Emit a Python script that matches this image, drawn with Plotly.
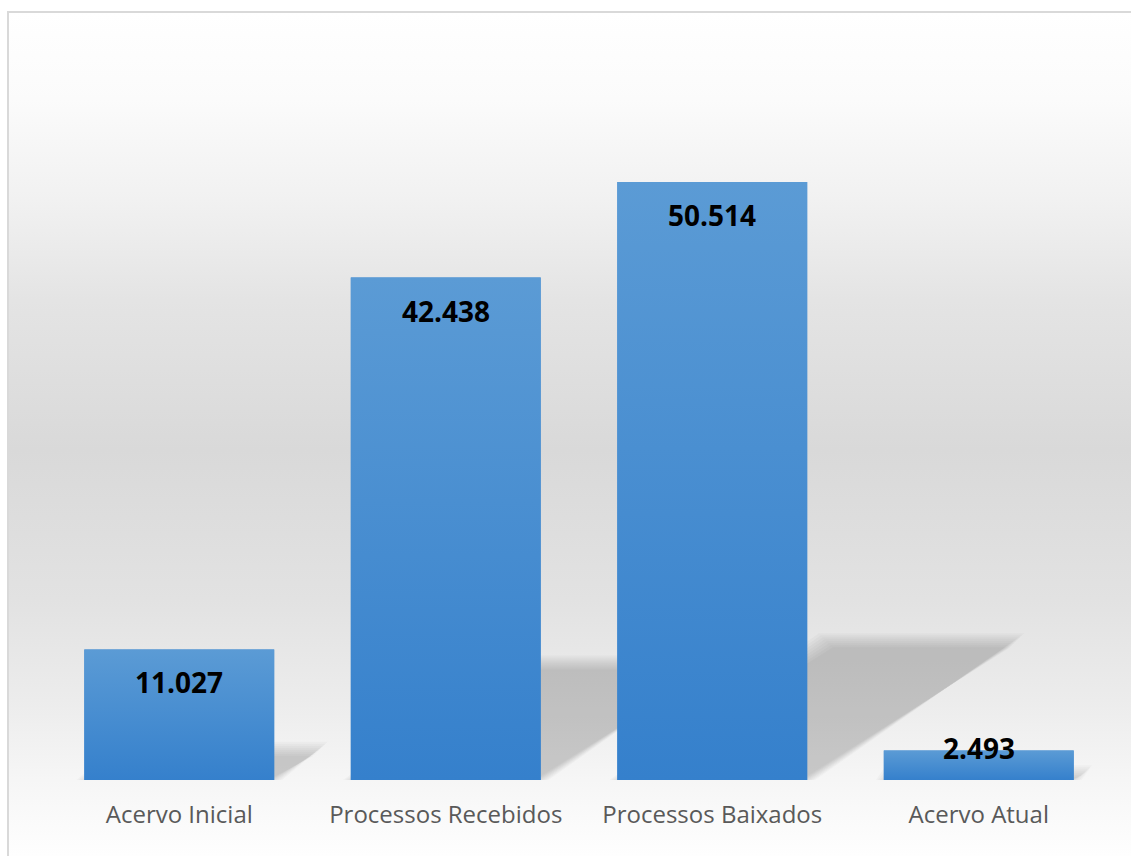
import base64
import plotly.graph_objects as go

# Movimentação processual
categories = ["Acervo Inicial", "Processos Recebidos", "Processos Baixados", "Acervo Atual"]
values = [11027, 42438, 50514, 2493]

# Figure geometry
W, H = 1131, 856
M_L, M_R, M_T, M_B = 46, 19, 40, 76
Y_MAX = 62500
BAR_W = 0.7125

plot_w = W - M_L - M_R
plot_h = H - M_T - M_B
px_per_x = plot_w / len(categories)
px_per_y = plot_h / Y_MAX

BAR_TOP = "#5b9bd5"
BAR_BOTTOM = "#3580cc"
FONT = "Open Sans"


def fmt(v):
    return f"{v:,}".replace(",", ".")


xs = list(range(len(categories)))

# Chart-area background: soft vertical gradient inside a light grey frame
bg_stops = [(0, "#ffffff"), (12, "#ffffff"), (100, "#fbfbfb"), (200, "#f1f1f1"),
            (300, "#e4e4e4"), (450, "#d9d9d9"), (600, "#e2e2e2"), (700, "#ececec"),
            (780, "#f6f6f6"), (856, "#fefefe")]
stop_xml = "".join(
    f'<stop offset="{y / H:.4f}" stop-color="{c}"/>' for y, c in bg_stops
)
svg = (
    f'<svg xmlns="http://www.w3.org/2000/svg" width="{W}" height="{H}" '
    f'viewBox="0 0 {W} {H}" preserveAspectRatio="none">'
    f'<defs><linearGradient id="g" gradientUnits="userSpaceOnUse" x1="0" y1="0" x2="0" y2="{H}">'
    f"{stop_xml}</linearGradient></defs>"
    f'<rect x="0" y="0" width="{W}" height="{H}" fill="#ffffff"/>'
    f'<rect x="8" y="12" width="{W + 20}" height="{H + 20}" fill="url(#g)" '
    f'stroke="#d9d9d9" stroke-width="2"/></svg>'
)
bg_uri = "data:image/svg+xml;base64," + base64.b64encode(svg.encode()).decode()

fig = go.Figure()

# Base bars
fig.add_trace(go.Bar(
    x=xs, y=values, width=BAR_W,
    marker=dict(color="#4289d0", line=dict(width=0)),
    hoverinfo="skip", showlegend=False,
))

# Gradient overlay for each bar
for i, v in zip(xs, values):
    l, r = i - BAR_W / 2, i + BAR_W / 2
    fig.add_trace(go.Scatter(
        x=[l, r, r, l, l], y=[0, 0, v, v, 0],
        mode="lines", line=dict(width=0), fill="toself",
        fillgradient=dict(type="vertical",
                          colorscale=[[0, BAR_BOTTOM], [1, BAR_TOP]]),
        hoverinfo="skip", showlegend=False,
    ))

# Perspective shadows cast behind the bars (layered for a soft edge)
SHADOW_H = 0.232
SHADOW_SKEW = 1.51
shapes = []
blur_steps = [8, 6, 4, 2, 0, -2, -4, -6]
for i, v in zip(xs, values):
    top = SHADOW_H * v
    dx = SHADOW_SKEW * top * px_per_y / px_per_x
    l, r = i - BAR_W / 2, i + BAR_W / 2
    for d in blur_steps:
        ex = d / px_per_x
        ey = d / px_per_y
        t = max(top + ey, 0)
        path = (f"M {l - ex},0 L {r + ex},0 L {r + dx + ex},{t} "
                f"L {l + dx - ex},{t} Z")
        shapes.append(dict(
            type="path", path=path, xref="x", yref="y",
            fillcolor="rgba(0,0,0,0.022)", line=dict(width=0), layer="below",
        ))

# Value labels near the top of each bar
annotations = []
for i, v in zip(xs, values):
    y_lab = max(v - 33 / px_per_y, 32 / px_per_y)
    annotations.append(dict(
        x=i, y=y_lab, xref="x", yref="y", text=fmt(v), showarrow=False,
        xanchor="center", yanchor="middle",
        font=dict(family=FONT, size=28, color="#000000", weight=700),
    ))

fig.update_layout(
    width=W, height=H,
    margin=dict(l=M_L, r=M_R, t=M_T, b=M_B),
    paper_bgcolor="#ffffff",
    plot_bgcolor="rgba(0,0,0,0)",
    barmode="overlay",
    showlegend=False,
    shapes=shapes,
    annotations=annotations,
    images=[dict(
        source=bg_uri, xref="paper", yref="paper",
        x=-M_L / plot_w, y=1 + M_T / plot_h,
        sizex=W / plot_w, sizey=H / plot_h,
        xanchor="left", yanchor="top", sizing="stretch", layer="below",
    )],
    xaxis=dict(
        range=[-0.5, len(categories) - 0.5],
        tickmode="array", tickvals=xs, ticktext=categories,
        showgrid=False, zeroline=False, showline=False, ticks="",
        tickfont=dict(family=FONT, size=24, color="#595959"),
        ticklabelstandoff=18,
        fixedrange=True,
    ),
    yaxis=dict(range=[0, Y_MAX], visible=False, fixedrange=True),
)

fig.write_html("out.html", config={"displayModeBar": False})
